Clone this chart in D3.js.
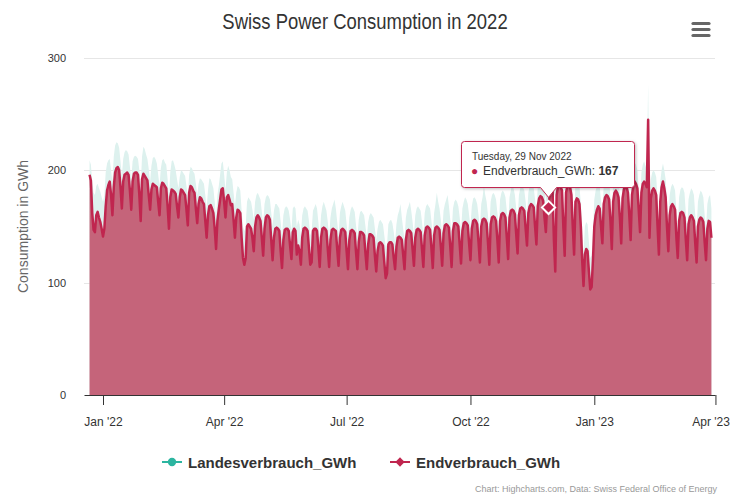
<!DOCTYPE html>
<html><head><meta charset="utf-8">
<script src="https://cdn.jsdelivr.net/npm/d3@7"></script>
<style>body{margin:0;background:#fff;} svg{display:block;font-family:"Liberation Sans",Arial,sans-serif;}</style>
</head><body><svg id="c" width="730" height="499"></svg>
<script>
const chartTitle = "Swiss Power Consumption in 2022";
const seriesNames = ["Landesverbrauch_GWh", "Endverbrauch_GWh"];
const startDate = "2021-12-22";
// daily values (GWh), one row per week
const landesverbrauch = [
209,205,190,180,
178,186,188,184,181,176,172,
178,198,206,209,210,200,190,
212,222,225,224,220,208,195,
210,216,218,217,214,203,192,
208,212,213,212,210,200,186,
212,221,219,214,210,201,190,
204,211,212,210,206,196,186,
202,209,210,207,205,192,178,
198,208,209,205,200,192,184,
194,200,199,197,195,186,176,
196,203,202,199,197,188,178,
188,193,192,190,188,178,166,
182,193,192,188,184,172,158,
178,186,196,206,208,196,182,
198,204,200,194,192,180,168,
180,186,185,182,164,150,146,
150,172,176,174,172,165,156,
172,178,180,177,174,163,152,
170,176,178,177,174,162,150,
164,170,170,168,166,154,142,
160,166,168,167,164,156,146,
166,168,166,150,156,152,142,
160,166,168,166,164,155,142,
146,164,167,170,166,154,140,
160,168,172,168,164,154,142,
158,166,170,174,166,154,142,
162,168,172,168,164,152,140,
158,165,168,166,163,151,140,
156,163,164,162,160,150,140,
154,160,162,160,158,148,138,
148,154,156,154,152,142,132,
134,152,155,156,153,145,136,
152,160,164,170,158,148,138,
158,165,168,172,164,154,142,
160,166,168,166,164,154,142,
162,168,170,168,166,155,142,
162,170,180,172,166,156,144,
164,170,174,178,168,156,144,
166,172,174,172,168,158,146,
166,172,176,174,170,160,150,
168,175,176,174,170,160,148,
170,176,186,178,172,160,148,
172,178,180,178,174,162,150,
174,180,182,180,176,164,152,
176,182,190,184,178,166,156,
178,184,186,185,182,172,160,
180,186,190,188,184,174,162,
186,192,194,193,190,180,170,
188,186,196,200,198,166,140,
194,200,202,200,198,175,152,
196,202,203,201,196,176,154,
190,192,190,186,170,148,126,
150,154,152,136,122,124,146,
174,182,186,188,186,172,160,
188,194,196,195,192,176,156,
190,196,198,196,192,178,160,
192,199,202,200,196,180,164,
196,203,207,205,200,184,170,
198,205,208,204,200,277,166,
192,198,200,198,194,174,152,
190,200,206,200,192,172,154,
178,185,188,186,182,164,148,
176,183,185,184,180,162,148,
174,180,184,182,178,160,146,
172,178,182,180,176,160,148,
170,176,178,166
];
const endverbrauch = [
196,191,162,147,
145,160,163,158,154,148,141,
148,168,182,187,190,178,160,
185,198,202,203,200,185,166,
190,196,197,198,196,182,165,
190,197,198,198,196,178,155,
192,197,195,193,191,178,165,
183,188,187,186,185,172,160,
184,189,188,186,184,168,148,
176,183,182,181,179,168,158,
176,183,182,180,178,165,151,
180,186,185,182,180,166,153,
170,176,175,172,170,155,140,
160,168,169,166,162,148,130,
155,165,174,183,184,172,158,
176,178,174,169,170,156,140,
158,165,164,162,140,122,116,
122,150,152,150,148,140,128,
150,158,160,158,155,140,124,
148,158,160,159,156,138,120,
140,148,149,148,146,128,113,
138,147,148,148,146,133,121,
145,148,146,125,133,128,116,
140,148,149,148,146,131,116,
118,146,148,148,146,131,114,
140,148,149,148,146,130,114,
138,147,148,147,146,130,115,
140,147,148,147,145,128,112,
138,146,147,146,144,127,112,
136,145,145,144,142,126,112,
134,143,143,142,140,124,110,
128,135,136,135,133,118,104,
108,134,136,136,134,122,112,
132,140,141,140,138,125,112,
138,146,147,146,144,130,115,
140,147,148,147,145,130,114,
142,149,150,149,147,131,113,
142,149,150,149,147,132,115,
144,151,152,151,149,132,114,
146,153,153,152,150,134,117,
146,153,154,153,151,135,120,
148,155,156,155,152,136,118,
150,156,157,156,153,136,116,
152,158,159,158,155,138,118,
155,161,162,161,158,140,121,
158,164,165,164,161,143,126,
160,166,167,166,164,148,133,
162,168,170,169,167,150,134,
168,175,177,176,173,158,145,
170,167,180,185,182,138,110,
178,185,186,185,182,150,124,
180,186,187,185,178,150,125,
172,175,174,170,150,120,97,
125,130,128,110,94,96,120,
150,160,165,168,166,150,135,
170,176,178,177,174,155,130,
172,180,182,180,176,158,135,
175,183,186,185,180,160,138,
178,186,190,188,184,165,145,
180,188,190,188,185,245,140,
175,182,184,182,178,150,125,
172,185,190,184,176,150,128,
160,168,170,168,165,140,122,
155,162,163,162,158,138,120,
152,158,160,158,155,135,118,
150,156,158,157,154,136,120,
148,155,154,140
];
const yTickValues = [0, 100, 200, 300];
const xTickDates = ["2022-01-01", "2022-04-01", "2022-07-01", "2022-10-01", "2023-01-01", "2023-04-01"];
const xTickLabels = ["Jan '22", "Apr '22", "Jul '22", "Oct '22", "Jan '23", "Apr '23"];
const yAxisTitle = "Consumption in GWh";
const tooltipIndex = 341;
const tooltipDate = "Tuesday, 29 Nov 2022";
const creditsText = "Chart: Highcharts.com, Data: Swiss Federal Office of Energy";

const colors = { teal: "#2cb5a0", tealFill: "#ddf1ee", red: "#c0264f", redFill: "#c5647a" };

const svg = d3.select("#c");
const parse = d3.utcParse("%Y-%m-%d");
const start = parse(startDate);
const data = endverbrauch.map((v, i) => ({ date: d3.utcDay.offset(start, i), e: v, l: landesverbrauch[i] }));

const plot = { left: 84, right: 715, top: 58, bottom: 395 };
const xRef = d3.scaleUtc().domain([parse("2022-01-01"), parse("2023-01-01")]).range([103, 594.3]);
const x = d3.scaleUtc().domain([xRef.invert(plot.left), xRef.invert(plot.right)]).range([plot.left, plot.right]);
const y = d3.scaleLinear().domain([0, 300]).range([plot.bottom, plot.top]);

// title (horizontally condensed like the reference font)
svg.append("text").attr("transform", "translate(365,29) scale(0.84,1)").attr("text-anchor", "middle")
  .attr("font-size", 22).attr("fill", "#333").text(chartTitle);

// menu icon
[23.5, 29.5, 35.5].forEach(yy => svg.append("line").attr("x1", 693).attr("x2", 709).attr("y1", yy).attr("y2", yy)
  .attr("stroke", "#666").attr("stroke-width", 3.2).attr("stroke-linecap", "round"));

// grid
svg.append("g").selectAll("line").data(yTickValues.filter(v => v > 0)).join("line")
  .attr("x1", plot.left).attr("x2", plot.right).attr("y1", d => Math.round(y(d)) + 0.5).attr("y2", d => Math.round(y(d)) + 0.5)
  .attr("stroke", "#e6e6e6");

// y labels
svg.append("g").selectAll("text").data(yTickValues).join("text")
  .attr("x", 66).attr("y", d => y(d) + 4).attr("text-anchor", "end")
  .attr("font-size", 11).attr("fill", "#333").text(d => d);

svg.append("text").attr("transform", `translate(28,${(plot.top + plot.bottom) / 2}) rotate(-90)`)
  .attr("text-anchor", "middle").attr("font-size", 14).attr("fill", "#666").text(yAxisTitle);

// areas
const areaL = d3.area().x(d => x(d.date)).y0(y(0)).y1(d => y(d.l));
const areaE = d3.area().x(d => x(d.date)).y0(y(0)).y1(d => y(d.e));
const lineE = d3.line().x(d => x(d.date)).y(d => y(d.e));
svg.append("path").datum(data).attr("d", areaL).attr("fill", colors.tealFill);
svg.append("path").datum(data).attr("d", areaE).attr("fill", colors.redFill);
svg.append("path").datum(data).attr("d", lineE).attr("fill", "none").attr("stroke", colors.red)
  .attr("stroke-width", 2.5).attr("stroke-linejoin", "round");

// x axis
const xAxis = d3.axisBottom(x).tickValues(xTickDates.map(parse)).tickFormat((d, i) => xTickLabels[i])
  .tickSize(10).tickPadding(12).tickSizeOuter(0);
const gx = svg.append("g").attr("transform", `translate(0,${plot.bottom})`).call(xAxis);
gx.select(".domain").attr("stroke", "#333");
gx.selectAll(".tick line").attr("stroke", "#333");
gx.selectAll("text").attr("font-size", 12).attr("fill", "#333").attr("font-family", null);
// keep the last label inside the chart, as the reference does
gx.selectAll(".tick text").filter((d, i, n) => i === n.length - 1).attr("text-anchor", "end").attr("dx", 14);

// hover marker + tooltip
const tp = data[tooltipIndex];
const mx = x(tp.date), my = y(tp.e);
svg.append("path").attr("d", d3.symbol(d3.symbolDiamond2, 110)()).attr("transform", `translate(${mx},${my})`)
  .attr("fill", colors.red).attr("stroke", "#fff").attr("stroke-width", 2);

const defs = svg.append("defs");
const f = defs.append("filter").attr("id", "sh").attr("x", "-10%").attr("y", "-10%").attr("width", "130%").attr("height", "150%");
f.append("feDropShadow").attr("dx", 1).attr("dy", 1).attr("stdDeviation", 1.5).attr("flood-opacity", 0.25);

const bx0 = 461.5, bx1 = 634.5, by0 = 141.5, by1 = 187.5, r = 3;
const tipX = mx, tipY = my - 10;
const tPath = `M${bx0 + r},${by0} H${bx1 - r} Q${bx1},${by0} ${bx1},${by0 + r} V${by1 - r} Q${bx1},${by1} ${bx1 - r},${by1}
 H${tipX + 8} L${tipX},${tipY} L${tipX - 8},${by1} H${bx0 + r} Q${bx0},${by1} ${bx0},${by1 - r} V${by0 + r} Q${bx0},${by0} ${bx0 + r},${by0} Z`;
svg.append("path").attr("d", tPath).attr("fill", "#fff").attr("stroke", colors.red).attr("stroke-width", 1)
  .attr("filter", "url(#sh)");
svg.append("text").attr("x", 472).attr("y", 160).attr("font-size", 10).attr("fill", "#333").text(tooltipDate);
svg.append("text").attr("x", 471).attr("y", 175).attr("font-size", 12).attr("fill", colors.red).text("●");
const t2 = svg.append("text").attr("x", 483).attr("y", 175).attr("font-size", 12).attr("fill", "#333");
t2.append("tspan").text(seriesNames[1] + ": ");
t2.append("tspan").attr("font-weight", "bold").text(tp.e);

// legend
const legend = [
  { name: seriesNames[0], color: colors.teal, sym: d3.symbolCircle, x0: 162, tx: 188 },
  { name: seriesNames[1], color: colors.red, sym: d3.symbolDiamond2, x0: 390, tx: 416 }
];
legend.forEach(L => {
  const g = svg.append("g");
  g.append("line").attr("x1", L.x0).attr("x2", L.x0 + 20).attr("y1", 462).attr("y2", 462).attr("stroke", L.color).attr("stroke-width", 2);
  g.append("path").attr("d", d3.symbol(L.sym, 55)()).attr("transform", `translate(${L.x0 + 10},462)`).attr("fill", L.color);
  g.append("text").attr("x", L.tx).attr("y", 467.5).attr("font-size", 15).attr("font-weight", "bold").attr("fill", "#333").text(L.name);
});

svg.append("text").attr("x", 717).attr("y", 492).attr("text-anchor", "end").attr("font-size", 9).attr("fill", "#999").text(creditsText);
</script></body></html>
